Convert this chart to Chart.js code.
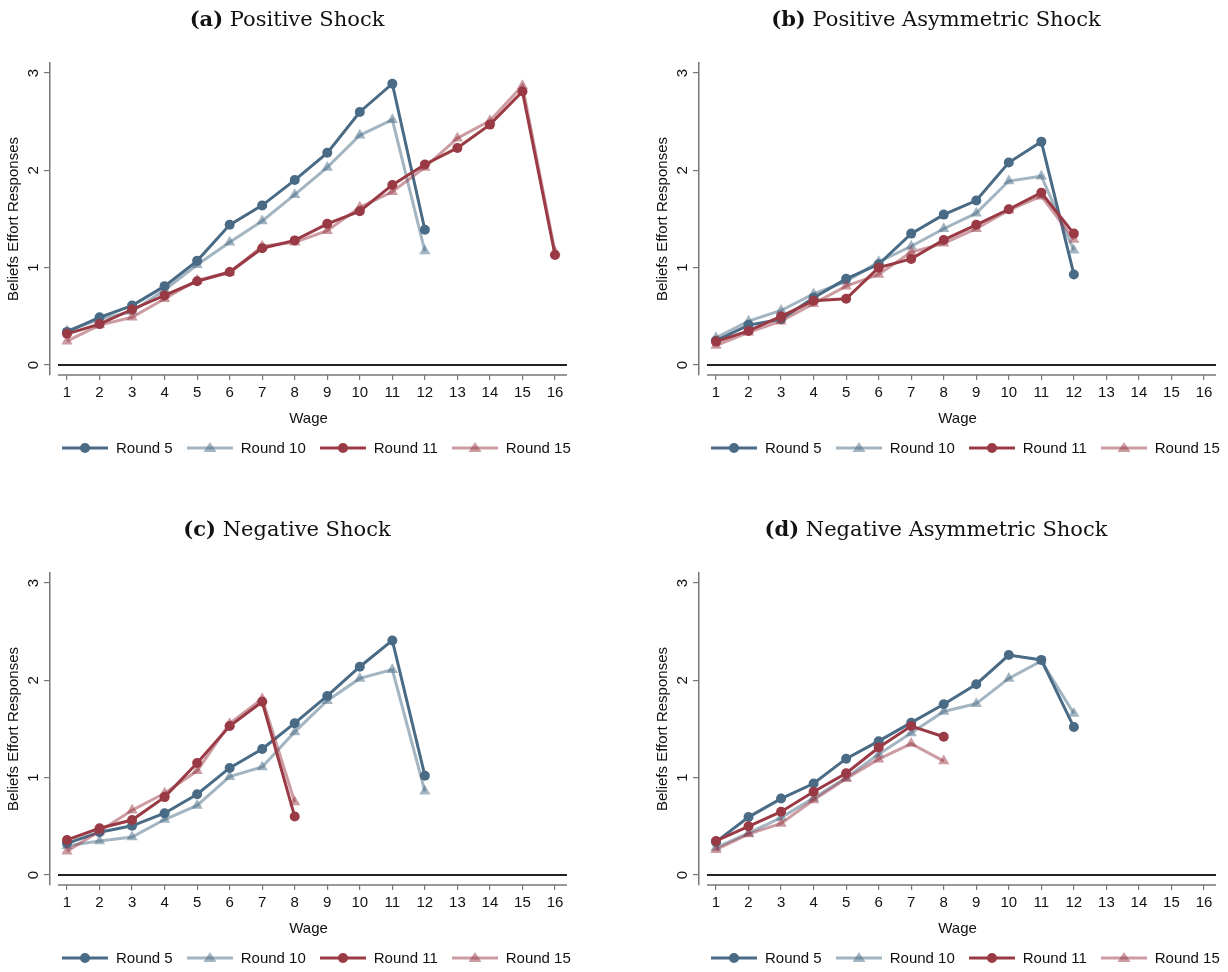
<!DOCTYPE html>
<html>
<head>
<meta charset="utf-8">
<script src="https://cdn.jsdelivr.net/npm/chart.js@4"></script>
<style>
  html, body { margin: 0; padding: 0; background: #fff; overflow: hidden; }
  body { width: 1228px; height: 972px; position: relative; font-family: "Liberation Sans", Arial, sans-serif; }
  .panel { position: absolute; width: 579px; height: 470px; }
  .panel canvas { position: absolute; left: 0; top: 0; }
  .ttl { position: absolute; left: 0; width: 574px; top: 6px; text-align: center;
         font-family: "DejaVu Serif", serif; font-size: 21px; color: #111; }
  .leg { position: absolute; left: 62px; top: 439px; display: flex; align-items: center;
         font-size: 15px; color: #111; white-space: nowrap; }
  .leg .item { display: flex; align-items: center; margin-right: 14px; }
  .leg svg { margin-right: 8px; }
</style>
</head>
<body>

<div class="panel" style="left:0;top:0">
  <canvas id="ca" width="579" height="470"></canvas>
  <div class="ttl"><b>(a)</b> Positive Shock</div>
  <div class="leg" id="la"></div>
</div>
<div class="panel" style="left:649px;top:0">
  <canvas id="cb" width="579" height="470"></canvas>
  <div class="ttl"><b>(b)</b> Positive Asymmetric Shock</div>
  <div class="leg" id="lb"></div>
</div>
<div class="panel" style="left:0;top:510px">
  <canvas id="cc" width="579" height="470"></canvas>
  <div class="ttl"><b>(c)</b> Negative Shock</div>
  <div class="leg" id="lc"></div>
</div>
<div class="panel" style="left:649px;top:510px">
  <canvas id="cd" width="579" height="470"></canvas>
  <div class="ttl"><b>(d)</b> Negative Asymmetric Shock</div>
  <div class="leg" id="ld"></div>
</div>

<script>
// wages on the x axis
const wages = [1, 2, 3, 4, 5, 6, 7, 8, 9, 10, 11, 12, 13, 14, 15, 16];
const yTicks = [0, 1, 2, 3];
const roundNames = ['Round 5', 'Round 10', 'Round 11', 'Round 15'];

// (a) Positive Shock
const posR5  = [0.34, 0.49, 0.61, 0.81, 1.07, 1.44, 1.64, 1.90, 2.18, 2.60, 2.89, 1.39];
const posR10 = [0.35, 0.47, 0.55, 0.77, 1.03, 1.26, 1.48, 1.75, 2.03, 2.36, 2.52, 1.17];
const posR11 = [0.32, 0.42, 0.57, 0.715, 0.86, 0.955, 1.20, 1.28, 1.45, 1.58, 1.85, 2.06, 2.23, 2.47, 2.81, 1.13];
const posR15 = [0.245, 0.41, 0.49, 0.68, 0.87, 0.95, 1.22, 1.26, 1.38, 1.62, 1.78, 2.03, 2.33, 2.51, 2.87, 1.16];

// (b) Positive Asymmetric Shock
const posAsR5  = [0.25, 0.41, 0.47, 0.69, 0.885, 1.035, 1.35, 1.545, 1.69, 2.08, 2.295, 0.93];
const posAsR10 = [0.28, 0.45, 0.56, 0.73, 0.86, 1.06, 1.22, 1.40, 1.56, 1.89, 1.94, 1.18];
const posAsR11 = [0.24, 0.35, 0.50, 0.66, 0.68, 1.00, 1.09, 1.285, 1.44, 1.60, 1.77, 1.35];
const posAsR15 = [0.20, 0.335, 0.45, 0.63, 0.81, 0.93, 1.16, 1.25, 1.40, 1.59, 1.735, 1.29];

// (c) Negative Shock
const negR5  = [0.325, 0.44, 0.505, 0.635, 0.83, 1.10, 1.295, 1.56, 1.84, 2.14, 2.41, 1.02];
const negR10 = [0.30, 0.35, 0.39, 0.57, 0.715, 1.01, 1.11, 1.47, 1.79, 2.02, 2.11, 0.86];
const negR11 = [0.36, 0.48, 0.565, 0.80, 1.15, 1.53, 1.78, 0.60];
const negR15 = [0.245, 0.45, 0.665, 0.84, 1.07, 1.555, 1.81, 0.75];

// (d) Negative Asymmetric Shock
const negAsR5  = [0.34, 0.595, 0.785, 0.94, 1.195, 1.375, 1.565, 1.755, 1.96, 2.26, 2.21, 1.52];
const negAsR10 = [0.28, 0.43, 0.59, 0.79, 1.00, 1.24, 1.46, 1.68, 1.76, 2.02, 2.20, 1.66];
const negAsR11 = [0.35, 0.50, 0.65, 0.855, 1.045, 1.31, 1.53, 1.42];
const negAsR15 = [0.26, 0.42, 0.53, 0.77, 0.99, 1.19, 1.35, 1.17];

// look of each round
const styles = [
  { color: '#4a6b85', point: 'circle', radius: 5 },
  { color: 'rgba(74,107,133,0.5)', point: 'triangle', radius: 6.5 },
  { color: '#9a3a45', point: 'circle', radius: 5 },
  { color: 'rgba(154,58,69,0.5)', point: 'triangle', radius: 6.5 }
];

const FONT = '"Liberation Sans", Arial, sans-serif';

// stata style axis line and zero line
const axisLines = {
  id: 'axisLines',
  beforeDatasetsDraw(chart) {
    const { ctx, chartArea, scales: { x, y } } = chart;
    const start = x.getPixelForValue(0.723);
    ctx.save();
    ctx.strokeStyle = '#222';
    ctx.lineWidth = 2;
    const y0 = y.getPixelForValue(0);
    ctx.beginPath(); ctx.moveTo(start, y0); ctx.lineTo(chartArea.right, y0); ctx.stroke();
    ctx.strokeStyle = '#777';
    ctx.lineWidth = 1.5;
    ctx.beginPath(); ctx.moveTo(start, chartArea.bottom); ctx.lineTo(chartArea.right, chartArea.bottom); ctx.stroke();
    ctx.restore();
  }
};

function makeChart(id, legendId, series) {
  const datasets = series.map((vals, k) => ({
    label: roundNames[k],
    data: vals.map((v, i) => ({ x: wages[i], y: v })),
    borderColor: styles[k].color,
    backgroundColor: styles[k].color,
    pointBackgroundColor: styles[k].color,
    pointBorderColor: styles[k].color,
    pointBorderWidth: 0,
    pointStyle: styles[k].point,
    pointRadius: styles[k].radius,
    borderWidth: 3,
    showLine: true,
    tension: 0,
    order: 4 - k
  }));

  new Chart(document.getElementById(id), {
    type: 'scatter',
    data: { datasets },
    plugins: [axisLines],
    options: {
      responsive: false,
      animation: false,
      devicePixelRatio: 1,
      layout: { padding: { left: 0, top: 63, right: 12, bottom: 42 } },
      plugins: { legend: { display: false }, tooltip: { enabled: false } },
      scales: {
        x: {
          type: 'linear',
          min: 0.4774,
          max: 16.369,
          afterBuildTicks: s => { s.ticks = wages.map(v => ({ value: v })); },
          afterFit: s => { s.height = 53; },
          border: { display: false },
          grid: { drawOnChartArea: false, drawTicks: true, tickLength: 5, color: '#777', lineWidth: 1.2 },
          ticks: { padding: 4, maxRotation: 0, autoSkip: false, color: '#111', font: { family: FONT, size: 15 } },
          title: { display: true, text: 'Wage', color: '#111', padding: 0, font: { family: FONT, size: 15 } }
        },
        y: {
          type: 'linear',
          min: -0.103,
          max: 3.103,
          afterBuildTicks: s => { s.ticks = yTicks.map(v => ({ value: v })); },
          afterFit: s => { s.width = 50; },
          border: { display: true, color: '#777', width: 1.5 },
          grid: { drawOnChartArea: false, drawTicks: true, tickLength: 6, color: '#777', lineWidth: 1.2 },
          ticks: { minRotation: 90, maxRotation: 90, crossAlign: 'center', padding: 6, color: '#111',
                   font: { family: FONT, size: 15 } },
          title: { display: true, text: 'Beliefs Effort Responses', color: '#111', padding: { top: 5 },
                   font: { family: FONT, size: 15 } }
        }
      }
    }
  });

  // legend: line sample with marker, then the name
  const leg = document.getElementById(legendId);
  roundNames.forEach((name, k) => {
    const st = styles[k];
    const mark = st.point === 'circle'
      ? `<circle cx="23" cy="8" r="${st.radius}" fill="${st.color}"/>`
      : `<polygon points="23,2 29.5,12 16.5,12" fill="${st.color}"/>`;
    const item = document.createElement('div');
    item.className = 'item';
    item.innerHTML = `<svg width="46" height="16"><line x1="0" y1="8" x2="46" y2="8" stroke="${st.color}" stroke-width="3"/>${mark}</svg><span>${name}</span>`;
    leg.appendChild(item);
  });
}

makeChart('ca', 'la', [posR5, posR10, posR11, posR15]);
makeChart('cb', 'lb', [posAsR5, posAsR10, posAsR11, posAsR15]);
makeChart('cc', 'lc', [negR5, negR10, negR11, negR15]);
makeChart('cd', 'ld', [negAsR5, negAsR10, negAsR11, negAsR15]);
</script>
</body>
</html>
